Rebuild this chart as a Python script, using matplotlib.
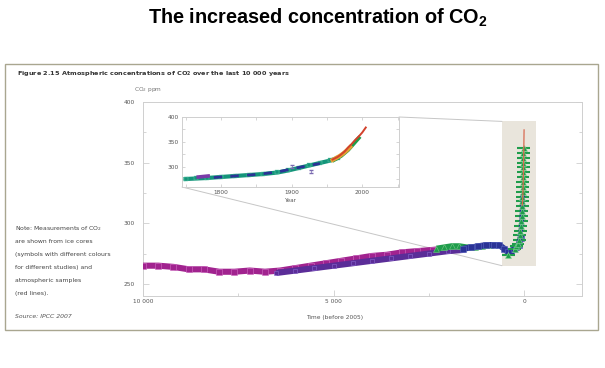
import numpy as np
import matplotlib
matplotlib.use('Agg')
import matplotlib.pyplot as plt
from matplotlib.patches import Rectangle, ConnectionPatch

plt.rcParams['font.family'] = ['DejaVu Sans']
plt.rcParams['mathtext.default'] = 'regular'

# ---- main panel: ice-core / atmospheric CO2, years before 2005 ----
magenta_bp = [10000, 9600, 9200, 8800, 8400, 8000, 7600, 7200, 6800, 6400, 6000,
              5600, 5200, 4800, 4400, 4000, 3600, 3200, 2800, 2400, 2100]
magenta_ppm = [265, 265, 264, 262, 262, 260, 260, 261, 260, 261, 263,
               265, 267, 269, 271, 273, 274, 276, 277, 278, 279]

purple_bp = [6500, 6000, 5500, 5000, 4500, 4000, 3500, 3000, 2500, 2000, 1600]
purple_ppm = [259, 261, 263, 265, 267, 269, 271, 273, 275, 277, 278]

green_bp = [2300, 2100, 1900, 1700, 1500, 1300, 1100, 900]
green_ppm = [279, 280, 281, 281, 280, 280, 281, 282]

blue_bp = [1600, 1400, 1200, 1000, 800, 650, 520, 420, 340, 270, 200, 140, 90]
blue_ppm = [279, 280, 281, 282, 282, 282, 279, 276, 277, 279, 280, 282, 288]

spike_bp = [420, 250, 200, 160, 130, 110, 95, 85, 75, 65, 58, 52, 47, 42, 38,
            34, 31, 28, 25, 22, 20, 18, 16, 14]
spike_ppm = [274, 279, 281, 283, 286, 290, 294, 298, 302, 306, 310, 314, 318, 322, 326,
             330, 334, 338, 342, 346, 350, 354, 358, 362]

spike_blue_bp = [200, 150, 110, 80, 60, 45, 35]
spike_blue_ppm = [279, 282, 288, 296, 305, 315, 322]

red_bp = [47, 40, 32, 25, 18, 12, 6, 0]
red_ppm = [315, 318, 323, 330, 340, 352, 364, 377]

# ---- inset: 1750 - 2005 ----
teal_year = [1750, 1765, 1780, 1800, 1820, 1840, 1860, 1880, 1895, 1910, 1925, 1940, 1955, 1965]
teal_ppm = [276, 277, 278, 280, 282, 284, 286, 289, 293, 298, 303, 308, 313, 318]
dblue_year = [1790, 1820, 1850, 1880, 1910, 1940]
dblue_ppm = [279, 282, 285, 290, 299, 307]
purp_year = [1768, 1782]
purp_ppm = [280, 282]
orange_year = [1958, 1963, 1968, 1973, 1978, 1983]
orange_ppm = [314, 318, 322, 327, 333, 340]
green2_year = [1960, 1970, 1980, 1990, 1995]
green2_ppm = [314, 322, 334, 350, 358]
red_year = [1958, 1965, 1970, 1975, 1980, 1985, 1990, 1995, 2000, 2005]
red_year_ppm = [315, 320, 325, 331, 339, 346, 354, 361, 369, 379]
err_year = [1900, 1928]
err_ppm = [300, 291]
err_size = [3, 3]

note_lines = ['Note: Measurements of CO$_2$', 'are shown from ice cores',
              '(symbols with different colours', 'for different studies) and',
              'atmospheric samples', '(red lines).']

C_MAG = '#a1238f'
C_PUR = '#5b2d98'
C_GRN = '#1f9d4b'
C_BLU = '#2b3396'
C_TEAL = '#14957a'
C_RED = '#d2412c'
C_ORG = '#e3a134'
TXT = '#555555'
SPINE = '#cfcfcf'

fig = plt.figure(figsize=(6.05, 3.68), dpi=100)

fig.text(148/605, 1-18/368, 'The increased concentration of CO$_2$',
         family=['Liberation Sans', 'DejaVu Sans'], fontsize=14.3, weight='bold',
         ha='left', va='center', color='black')

fig.add_artist(Rectangle((5/605, 1-330/368), 593/605, 266/368, transform=fig.transFigure,
                         fill=False, ec='#a9a690', lw=1.0))

fig.text(17/605, 1-74/368, 'Figure 2.15 Atmospheric concentrations of CO$_2$ over the last 10 000 years',
         fontsize=4.65, weight='bold', color='#333333', va='center')
fig.text(134/605, 1-89/368, 'CO$_2$ ppm', fontsize=4.2, color='#777777', va='center')

for i, line in enumerate(note_lines):
    fig.text(15/605, 1-(229 + i*12.8)/368, line, fontsize=4.4, color='#444444', va='center')
fig.text(15/605, 1-316/368, 'Source: IPCC 2007', fontsize=4.4, color='#555555',
         style='italic', va='center')
fig.text(306/605, 1-317/368, 'Time (before 2005)', fontsize=4.2, color=TXT, va='center')

# ---- main axes ----
ax = fig.add_axes([143/605, 1-296/368, 439/605, 194/368])
ax.set_xlim(10000, -1520)
ax.set_ylim(240, 400)
for s in ax.spines.values():
    s.set_color(SPINE)
    s.set_linewidth(0.7)

ax.add_patch(Rectangle((-320, 265), 900, 119, fc='#e9e5dc', ec='none', zorder=1))

band = dict(lw=4.4, solid_capstyle='butt', zorder=3)
ax.plot(magenta_bp, magenta_ppm, color=C_MAG, marker='s', ms=4, mec='#d070c4', mew=0.4, **band)
ax.plot(purple_bp, purple_ppm, color=C_PUR, marker='s', ms=3.5, mec='#8a6ad0', mew=0.4, **band)
ax.plot(green_bp, green_ppm, color=C_GRN, marker='^', ms=4.5, mec='#7ac88a', mew=0.4, **band)
ax.plot(blue_bp, blue_ppm, color=C_BLU, marker='s', ms=4, mec='#5a68c0', mew=0.4, **band)
ax.errorbar(spike_bp, spike_ppm, xerr=170, fmt='^', color=C_GRN, ms=5,
            mec='#8ad89a', mew=0.4, elinewidth=1.5, capsize=0, zorder=4)
ax.plot(spike_blue_bp, spike_blue_ppm, color=C_BLU, lw=3.2, zorder=4)
ax.plot(red_bp, red_ppm, color='#d86a52', lw=0.9, zorder=5)

ax.set_xticks([10000, 5000, 0])
ax.set_xticklabels(['10 000', '5 000', '0'])
ax.set_xticks([7500, 2500], minor=True)
ax.set_yticks([250, 300, 350, 400])
ax.set_yticks([275, 325, 375], minor=True)
ax.tick_params(which='both', direction='in', colors=SPINE, labelcolor=TXT,
               labelsize=4.2, length=4, width=0.6, pad=2, right=True)
ax.tick_params(which='minor', length=2.5)
ax.tick_params(axis='y', pad=6)

# ---- inset ----
axin = fig.add_axes([182/605, 1-187/368, 217/605, 70/368])
axin.set_xlim(1745, 2052)
axin.set_ylim(260, 400)
for s in axin.spines.values():
    s.set_color(SPINE)
    s.set_linewidth(0.7)

axin.plot(teal_year, teal_ppm, color=C_TEAL, lw=3.0, marker='s', ms=2.2, mec='#70d0b0', mew=0.3, zorder=3)
axin.plot(dblue_year, dblue_ppm, color=C_BLU, lw=2.0, ls=(0, (3, 3)), zorder=4)
axin.plot(purp_year, purp_ppm, color='#7a3ba8', lw=2.6, zorder=4)
axin.plot(green2_year, green2_ppm, color=C_GRN, lw=2.8, zorder=4)
axin.plot(orange_year, orange_ppm, color=C_ORG, lw=3.0, zorder=5)
axin.plot(red_year, red_year_ppm, color=C_RED, lw=1.4, zorder=6)
axin.errorbar(err_year, err_ppm, yerr=err_size, fmt='none', ecolor='#7a6ab0',
              elinewidth=0.5, capsize=1.2, zorder=6)

axin.set_xticks([1800, 1900, 2000])
axin.set_xticks([1750, 1850, 1950, 2050], minor=True)
axin.set_yticks([300, 350, 400])
axin.set_yticks([275, 325, 375], minor=True)
axin.tick_params(which='both', direction='in', colors=SPINE, labelcolor=TXT,
                 labelsize=4.2, length=2.5, width=0.6, pad=2, top=True, right=True)
axin.set_xlabel('Year', fontsize=4.1, color=TXT, labelpad=2)

for xa, ya in [((0, 0), (580, 265)), ((1, 1), (580, 384))]:
    con = ConnectionPatch(xyA=xa, coordsA=axin.transAxes, xyB=ya, coordsB=ax.transData,
                          color='#c6c6c6', lw=0.7, zorder=2)
    ax.add_artist(con)

fig.savefig('out.png', dpi=100)
